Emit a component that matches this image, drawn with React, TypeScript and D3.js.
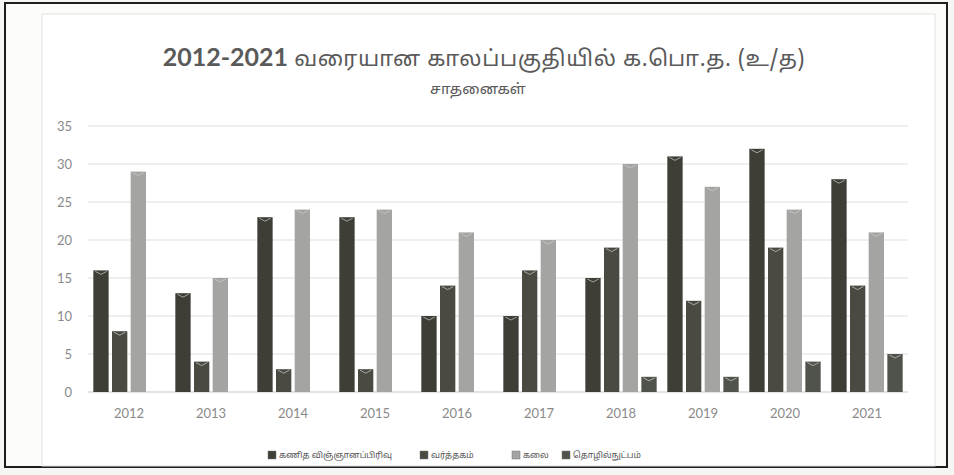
import React from 'react';
import * as d3 from 'd3';

// chart values
const years = ['2012', '2013', '2014', '2015', '2016', '2017', '2018', '2019', '2020', '2021'];
const maths = [16, 13, 23, 23, 10, 10, 15, 31, 32, 28];
const commerce = [8, 4, 3, 3, 14, 16, 19, 12, 19, 14];
const arts = [29, 15, 24, 24, 21, 20, 30, 27, 24, 21];
const tech = [0, 0, 0, 0, 0, 0, 2, 2, 4, 5];
const seriesNames = ['கணித விஞ்ஞானப்பிரிவு', 'வர்த்தகம்', 'கலை', 'தொழில்நுட்பம்'];
const yTicks = [0, 5, 10, 15, 20, 25, 30, 35];

const colors = ['#3e3e37', '#4a4a43', '#a4a4a2', '#50534b'];
const tamilFont = '"Noto Sans Tamil", "Lohit Tamil", Latha, "Noto Sans", sans-serif';
const numFont = 'Lato, "Open Sans", sans-serif';

const W = 954;
const H = 475;
const margin = { left: 88, right: 46, top: 126, bottom: 83 };

export default function App() {
  const series = [maths, commerce, arts, tech];

  const x = d3.scaleBand<string>()
    .domain(years)
    .range([margin.left, W - margin.right])
    .paddingInner(0.13)
    .paddingOuter(0.065);

  const inner = d3.scaleBand<number>()
    .domain(d3.range(series.length))
    .range([0, x.bandwidth()])
    .paddingInner(0.18);

  const y = d3.scaleLinear()
    .domain([0, 35])
    .range([H - margin.bottom, margin.top]);

  const legendX = [268, 420, 512, 562];

  return (
    <div style={{ position: 'absolute', left: 0, top: 0 }}>
      <svg width={W} height={H} style={{ display: 'block', background: '#f6f6f4' }}>
        {/* scan frame + chart area */}
        <rect x={5} y={3} width={942} height={464} fill="#fcfcfb" stroke="#1e1e1e" strokeWidth={2} />
        <rect x={42} y={14} width={893} height={452} fill="#ffffff" stroke="#e2e2e2" strokeWidth={1} />

        {/* title */}
        <text x={484} y={66} textAnchor="middle" fill="#5a5a5a" fontSize={22} fontFamily={tamilFont}>
          <tspan fontFamily={numFont} fontWeight="bold" fontSize={25}>2012-2021 </tspan>
          <tspan letterSpacing={0.6}>வரையான  காலப்பகுதியில் க.பொ.த. (உ/த)</tspan>
        </text>
        <text x={478} y={94} textAnchor="middle" fill="#5a5a5a" fontSize={15} fontFamily={tamilFont}>
          சாதனைகள்
        </text>

        {/* grid */}
        {yTicks.map(t => (
          <g key={t}>
            <line x1={margin.left} x2={W - margin.right} y1={y(t)} y2={y(t)}
              stroke={t === 0 ? '#c8c8c8' : '#dedede'} strokeWidth={1} />
            <text x={72} y={y(t)} dy="0.35em" textAnchor="end" fill="#8a8a8a"
              fontSize={13} fontFamily={numFont}>{t}</text>
          </g>
        ))}

        {/* bars */}
        {years.map((yr, i) => (
          <g key={yr} transform={`translate(${x(yr)},0)`}>
            {series.map((s, j) => {
              const v = s[i];
              if (!v) return null;
              const bx = inner(j) as number;
              const bw = inner.bandwidth();
              const top = y(v);
              return (
                <g key={j}>
                  <rect x={bx} y={top} width={bw} height={y(0) - top} fill={colors[j]} />
                  <path
                    d={`M${bx + 2},${top + 1} L${bx + bw / 2},${top + 4} L${bx + bw - 2},${top + 1}`}
                    fill="none" stroke="#cfcfca" strokeWidth={1} opacity={0.7} />
                </g>
              );
            })}
            <text x={x.bandwidth() / 2} y={413} dy="0.35em" textAnchor="middle"
              fill="#8a8a8a" fontSize={13} fontFamily={numFont}>{yr}</text>
          </g>
        ))}

        {/* legend */}
        {seriesNames.map((name, j) => (
          <g key={name} transform={`translate(${legendX[j]},455)`}>
            <rect x={0} y={-4} width={8} height={8} fill={colors[j]} stroke="#777" strokeWidth={0.5} />
            <text x={11} y={0} dy="0.35em" fill="#555" fontSize={8.6} fontFamily={tamilFont}>{name}</text>
          </g>
        ))}
      </svg>
    </div>
  );
}
